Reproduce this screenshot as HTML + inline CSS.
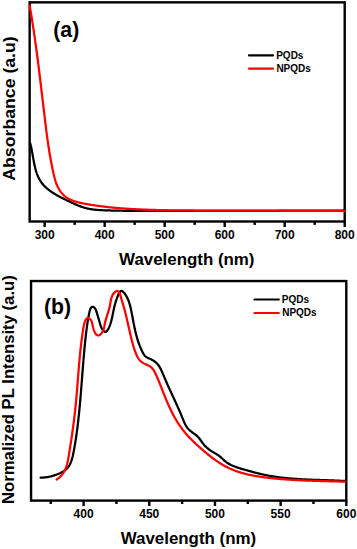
<!DOCTYPE html>
<html><head><meta charset="utf-8"><style>
html,body{margin:0;padding:0;background:#fff;width:357px;height:549px;overflow:hidden}
svg{display:block}
text{font-family:"Liberation Sans",sans-serif;font-weight:bold;fill:#000}
</style></head><body>
<svg width="357" height="549" viewBox="0 0 357 549">
<rect x="0" y="0" width="357" height="549" fill="#fff"/>

<g fill="none" stroke="#000" stroke-width="2.4">
<rect x="29.65" y="2.35" width="315.05" height="219.15"/>
<rect x="31.05" y="281.05" width="315.25" height="219.55"/>
</g>
<g fill="none" stroke-linejoin="round" stroke-linecap="round">
<path d="M30.11,143.01 L30.28,143.60 L30.45,144.21 L30.61,144.81 L30.76,145.42 L30.91,146.04 L31.06,146.67 L31.20,147.29 L31.34,147.93 L31.47,148.56 L31.60,149.20 L31.73,149.85 L31.85,150.50 L31.98,151.15 L32.10,151.80 L32.22,152.46 L32.34,153.12 L32.45,153.79 L32.57,154.45 L32.68,155.12 L32.80,155.79 L32.91,156.46 L33.03,157.13 L33.14,157.80 L33.26,158.48 L33.38,159.15 L33.50,159.83 L33.62,160.50 L33.74,161.17 L33.87,161.85 L34.00,162.52 L34.13,163.19 L34.26,163.86 L34.40,164.53 L34.54,165.20 L34.69,165.87 L34.84,166.53 L35.00,167.19 L35.16,167.85 L35.32,168.51 L35.49,169.16 L35.67,169.81 L35.85,170.45 L36.04,171.10 L36.24,171.73 L36.44,172.37 L36.66,173.00 L36.87,173.62 L37.10,174.24 L37.34,174.85 L37.58,175.46 L37.83,176.06 L38.10,176.66 L38.37,177.25 L38.65,177.83 L38.94,178.41 L39.24,178.98 L39.55,179.54 L39.87,180.10 L40.21,180.64 L40.55,181.18 L40.91,181.71 L41.28,182.24 L41.66,182.75 L42.05,183.26 L42.45,183.76 L42.86,184.25 L43.28,184.74 L43.71,185.21 L44.15,185.69 L44.60,186.15 L45.05,186.61 L45.52,187.06 L45.99,187.50 L46.48,187.94 L46.96,188.37 L47.46,188.79 L47.97,189.21 L48.48,189.62 L48.99,190.03 L49.52,190.43 L50.05,190.82 L50.58,191.21 L51.13,191.59 L51.67,191.97 L52.22,192.34 L52.78,192.71 L53.34,193.07 L53.91,193.43 L54.48,193.78 L55.06,194.13 L55.63,194.48 L56.22,194.82 L56.80,195.16 L57.39,195.49 L57.98,195.82 L58.58,196.14 L59.18,196.47 L59.78,196.79 L60.38,197.10 L60.98,197.42 L61.59,197.73 L62.20,198.04 L62.81,198.34 L63.42,198.65 L64.03,198.95 L64.64,199.25 L65.25,199.55 L65.86,199.84 L66.48,200.14 L67.09,200.43 L67.70,200.73 L68.31,201.02 L68.92,201.31 L69.53,201.60 L70.14,201.89 L70.75,202.18 L71.36,202.47 L71.97,202.75 L72.58,203.03 L73.19,203.31 L73.79,203.59 L74.40,203.87 L75.01,204.14 L75.62,204.40 L76.23,204.67 L76.84,204.93 L77.45,205.18 L78.06,205.43 L78.67,205.68 L79.28,205.92 L79.90,206.16 L80.51,206.39 L81.13,206.61 L81.74,206.83 L82.36,207.04 L82.98,207.25 L83.61,207.45 L84.23,207.64 L84.86,207.82 L85.49,208.00 L86.12,208.17 L86.75,208.33 L87.38,208.48 L88.02,208.62 L88.66,208.76 L89.30,208.88 L89.95,209.00 L90.59,209.12 L91.24,209.22 L91.89,209.32 L92.54,209.41 L93.19,209.50 L93.85,209.58 L94.50,209.66 L95.16,209.73 L95.82,209.79 L96.48,209.85 L97.14,209.91 L97.80,209.96 L98.47,210.00 L99.13,210.05 L99.80,210.09 L100.46,210.13 L101.13,210.16 L101.79,210.19 L102.46,210.22 L103.13,210.25 L103.80,210.28 L104.46,210.30 L105.13,210.33 L105.80,210.35 L106.47,210.37 L107.14,210.39 L107.80,210.41 L108.47,210.43 L109.14,210.45 L109.81,210.47 L110.47,210.49 L111.14,210.51 L111.81,210.53 L112.48,210.55 L113.15,210.56 L113.81,210.58 L114.48,210.59 L115.15,210.61 L115.81,210.62 L116.48,210.64 L117.15,210.65 L117.82,210.67 L118.48,210.68 L119.15,210.69 L119.82,210.70 L120.49,210.71 L121.15,210.72 L121.82,210.74 L122.49,210.75 L123.15,210.76 L123.82,210.76 L124.49,210.77 L125.15,210.78 L125.82,210.79 L126.49,210.80 L127.15,210.81 L127.82,210.81 L128.49,210.82 L129.15,210.83 L129.82,210.83 L130.49,210.84 L131.15,210.85 L131.82,210.85 L132.49,210.86 L133.15,210.86 L133.82,210.87 L134.49,210.87 L135.15,210.88 L135.82,210.88 L136.49,210.88 L137.15,210.89 L137.82,210.89 L138.49,210.89 L139.15,210.90 L139.82,210.90 L140.49,210.90 L141.15,210.90 L141.82,210.91 L142.48,210.91 L143.15,210.91 L143.82,210.91 L144.48,210.91 L145.15,210.92 L145.82,210.92 L146.48,210.92 L147.15,210.92 L147.82,210.92 L148.48,210.92 L149.15,210.92 L149.81,210.93 L150.48,210.93 L151.15,210.93 L151.81,210.93 L152.48,210.93 L153.15,210.93 L153.81,210.93 L154.48,210.93 L155.14,210.93 L155.81,210.94 L156.48,210.94 L157.14,210.94 L157.81,210.94 L158.48,210.94 L159.14,210.94 L159.81,210.94 L160.47,210.94 L161.14,210.94 L161.81,210.94 L162.47,210.94 L163.14,210.94 L163.81,210.94 L164.47,210.95 L165.14,210.95 L165.80,210.95 L166.47,210.95 L167.14,210.95 L167.80,210.95 L168.47,210.95 L169.14,210.95 L169.80,210.95 L170.47,210.95 L171.13,210.95 L171.80,210.95 L172.47,210.95 L173.13,210.95 L173.80,210.95 L174.46,210.95 L175.13,210.95 L175.80,210.95 L176.46,210.95 L177.13,210.95 L177.80,210.95 L178.46,210.95 L179.13,210.95 L179.79,210.95 L180.46,210.95 L181.13,210.95 L181.79,210.95 L182.46,210.95 L183.13,210.95 L183.79,210.95 L184.46,210.95 L185.12,210.95 L185.79,210.95 L186.46,210.95 L187.12,210.95 L187.79,210.95 L188.45,210.95 L189.12,210.95 L189.79,210.95 L190.45,210.95 L191.12,210.95 L191.79,210.95 L192.45,210.95 L193.12,210.95 L193.78,210.95 L194.45,210.95 L195.12,210.95 L195.78,210.94 L196.45,210.94 L197.11,210.94 L197.78,210.94 L198.45,210.94 L199.11,210.94 L199.78,210.94 L200.45,210.94 L201.11,210.94 L201.78,210.94 L202.44,210.94 L203.11,210.94 L203.78,210.94 L204.44,210.94 L205.11,210.93 L205.77,210.93 L206.44,210.93 L207.11,210.93 L207.77,210.93 L208.44,210.93 L209.10,210.93 L209.77,210.93 L210.44,210.93 L211.10,210.93 L211.77,210.93 L212.44,210.92 L213.10,210.92 L213.77,210.92 L214.43,210.92 L215.10,210.92 L215.77,210.92 L216.43,210.92 L217.10,210.92 L217.76,210.92 L218.43,210.91 L219.10,210.91 L219.76,210.91 L220.43,210.91 L221.10,210.91 L221.76,210.91 L222.43,210.91 L223.09,210.91 L223.76,210.90 L224.43,210.90 L225.09,210.90 L225.76,210.90 L226.42,210.90 L227.09,210.90 L227.76,210.90 L228.42,210.89 L229.09,210.89 L229.75,210.89 L230.42,210.89 L231.09,210.89 L231.75,210.89 L232.42,210.88 L233.09,210.88 L233.75,210.88 L234.42,210.88 L235.08,210.88 L235.75,210.88 L236.42,210.88 L237.08,210.87 L237.75,210.87 L238.41,210.87 L239.08,210.87 L239.75,210.87 L240.41,210.86 L241.08,210.86 L241.74,210.86 L242.41,210.86 L243.08,210.86 L243.74,210.86 L244.41,210.85 L245.08,210.85 L245.74,210.85 L246.41,210.85 L247.07,210.85 L247.74,210.84 L248.41,210.84 L249.07,210.84 L249.74,210.84 L250.40,210.84 L251.07,210.84 L251.74,210.83 L252.40,210.83 L253.07,210.83 L253.73,210.83 L254.40,210.83 L255.07,210.82 L255.73,210.82 L256.40,210.82 L257.07,210.82 L257.73,210.82 L258.40,210.81 L259.06,210.81 L259.73,210.81 L260.40,210.81 L261.06,210.80 L261.73,210.80 L262.39,210.80 L263.06,210.80 L263.73,210.80 L264.39,210.79 L265.06,210.79 L265.72,210.79 L266.39,210.79 L267.06,210.78 L267.72,210.78 L268.39,210.78 L269.06,210.78 L269.72,210.78 L270.39,210.77 L271.05,210.77 L271.72,210.77 L272.39,210.77 L273.05,210.76 L273.72,210.76 L274.38,210.76 L275.05,210.76 L275.72,210.76 L276.38,210.75 L277.05,210.75 L277.72,210.75 L278.38,210.75 L279.05,210.74 L279.71,210.74 L280.38,210.74 L281.05,210.74 L281.71,210.73 L282.38,210.73 L283.04,210.73 L283.71,210.73 L284.38,210.72 L285.04,210.72 L285.71,210.72 L286.38,210.72 L287.04,210.71 L287.71,210.71 L288.37,210.71 L289.04,210.71 L289.71,210.70 L290.37,210.70 L291.04,210.70 L291.70,210.70 L292.37,210.69 L293.04,210.69 L293.70,210.69 L294.37,210.69 L295.04,210.68 L295.70,210.68 L296.37,210.68 L297.03,210.68 L297.70,210.67 L298.37,210.67 L299.03,210.67 L299.70,210.67 L300.36,210.66 L301.03,210.66 L301.70,210.66 L302.36,210.66 L303.03,210.65 L303.70,210.65 L304.36,210.65 L305.03,210.65 L305.69,210.64 L306.36,210.64 L307.03,210.64 L307.69,210.63 L308.36,210.63 L309.03,210.63 L309.69,210.63 L310.36,210.62 L311.02,210.62 L311.69,210.62 L312.36,210.62 L313.02,210.61 L313.69,210.61 L314.36,210.61 L315.02,210.61 L315.69,210.60 L316.35,210.60 L317.02,210.60 L317.69,210.59 L318.35,210.59 L319.02,210.59 L319.68,210.59 L320.35,210.58 L321.02,210.58 L321.68,210.58 L322.35,210.58 L323.02,210.57 L323.68,210.57 L324.35,210.57 L325.01,210.57 L325.68,210.56 L326.35,210.56 L327.01,210.56 L327.68,210.55 L328.35,210.55 L329.01,210.55 L329.68,210.55 L330.34,210.54 L331.01,210.54 L331.68,210.54 L332.34,210.54 L333.01,210.53 L333.68,210.53 L334.34,210.53 L335.01,210.53 L335.68,210.52 L336.34,210.52 L337.01,210.52 L337.67,210.51 L338.34,210.51 L339.01,210.51 L339.67,210.51 L340.34,210.50 L341.01,210.50 L341.67,210.50 L342.34,210.50 L343.00,210.49 L343.67,210.49 L344.34,210.49 L345.00,210.49" stroke="#000" stroke-width="2.25"/>
<path d="M29.68,5.57 L29.79,6.23 L29.91,6.88 L30.02,7.53 L30.13,8.18 L30.24,8.83 L30.35,9.49 L30.46,10.14 L30.57,10.79 L30.68,11.45 L30.79,12.10 L30.90,12.75 L31.01,13.41 L31.12,14.06 L31.22,14.72 L31.33,15.37 L31.44,16.03 L31.54,16.68 L31.65,17.34 L31.75,17.99 L31.86,18.65 L31.96,19.30 L32.06,19.96 L32.17,20.61 L32.27,21.27 L32.37,21.92 L32.48,22.58 L32.58,23.24 L32.68,23.89 L32.78,24.55 L32.88,25.21 L32.98,25.86 L33.08,26.52 L33.18,27.18 L33.28,27.84 L33.38,28.49 L33.48,29.15 L33.58,29.81 L33.68,30.47 L33.77,31.12 L33.87,31.78 L33.97,32.44 L34.06,33.10 L34.16,33.76 L34.26,34.42 L34.35,35.08 L34.45,35.73 L34.54,36.39 L34.64,37.05 L34.73,37.71 L34.82,38.37 L34.92,39.03 L35.01,39.69 L35.10,40.35 L35.20,41.01 L35.29,41.67 L35.38,42.33 L35.47,42.99 L35.57,43.65 L35.66,44.31 L35.75,44.97 L35.84,45.63 L35.93,46.29 L36.02,46.95 L36.11,47.61 L36.20,48.27 L36.29,48.93 L36.38,49.59 L36.47,50.26 L36.55,50.92 L36.64,51.58 L36.73,52.24 L36.82,52.90 L36.91,53.56 L36.99,54.22 L37.08,54.88 L37.17,55.54 L37.25,56.21 L37.34,56.87 L37.43,57.53 L37.51,58.19 L37.60,58.85 L37.68,59.51 L37.77,60.18 L37.86,60.84 L37.94,61.50 L38.02,62.16 L38.11,62.82 L38.19,63.49 L38.28,64.15 L38.36,64.81 L38.45,65.47 L38.53,66.13 L38.61,66.80 L38.70,67.46 L38.78,68.12 L38.86,68.78 L38.94,69.44 L39.03,70.11 L39.11,70.77 L39.19,71.43 L39.27,72.09 L39.36,72.76 L39.44,73.42 L39.52,74.08 L39.60,74.74 L39.68,75.40 L39.76,76.07 L39.84,76.73 L39.92,77.39 L40.01,78.05 L40.09,78.71 L40.17,79.38 L40.25,80.04 L40.33,80.70 L40.41,81.36 L40.49,82.03 L40.57,82.69 L40.65,83.35 L40.73,84.01 L40.81,84.67 L40.89,85.34 L40.97,86.00 L41.04,86.66 L41.12,87.32 L41.20,87.98 L41.28,88.64 L41.36,89.31 L41.44,89.97 L41.52,90.63 L41.60,91.29 L41.68,91.95 L41.76,92.61 L41.83,93.28 L41.91,93.94 L41.99,94.60 L42.07,95.26 L42.15,95.92 L42.23,96.58 L42.30,97.24 L42.38,97.90 L42.46,98.56 L42.54,99.22 L42.62,99.89 L42.70,100.55 L42.77,101.21 L42.85,101.87 L42.93,102.53 L43.01,103.19 L43.09,103.85 L43.16,104.51 L43.24,105.17 L43.32,105.83 L43.40,106.49 L43.48,107.15 L43.56,107.81 L43.63,108.47 L43.71,109.13 L43.79,109.79 L43.87,110.45 L43.95,111.10 L44.02,111.76 L44.10,112.42 L44.18,113.08 L44.26,113.74 L44.34,114.40 L44.42,115.06 L44.49,115.72 L44.57,116.37 L44.65,117.03 L44.73,117.69 L44.81,118.35 L44.89,119.01 L44.97,119.66 L45.05,120.32 L45.12,120.98 L45.20,121.64 L45.28,122.29 L45.36,122.95 L45.44,123.61 L45.52,124.26 L45.60,124.92 L45.69,125.58 L45.77,126.24 L45.85,126.89 L45.93,127.55 L46.01,128.21 L46.10,128.86 L46.18,129.52 L46.26,130.18 L46.35,130.83 L46.43,131.49 L46.51,132.15 L46.60,132.80 L46.69,133.46 L46.77,134.12 L46.86,134.78 L46.95,135.43 L47.03,136.09 L47.12,136.75 L47.21,137.40 L47.30,138.06 L47.39,138.72 L47.48,139.38 L47.57,140.03 L47.67,140.69 L47.76,141.35 L47.85,142.01 L47.95,142.66 L48.04,143.32 L48.14,143.98 L48.24,144.64 L48.33,145.29 L48.43,145.95 L48.53,146.61 L48.63,147.27 L48.73,147.93 L48.83,148.59 L48.94,149.25 L49.04,149.90 L49.15,150.56 L49.25,151.22 L49.36,151.88 L49.47,152.54 L49.57,153.20 L49.68,153.86 L49.79,154.52 L49.91,155.18 L50.02,155.84 L50.13,156.50 L50.25,157.16 L50.36,157.83 L50.48,158.49 L50.60,159.15 L50.72,159.81 L50.84,160.47 L50.96,161.13 L51.09,161.80 L51.21,162.46 L51.34,163.12 L51.46,163.79 L51.59,164.45 L51.72,165.11 L51.85,165.78 L51.99,166.44 L52.12,167.11 L52.26,167.77 L52.39,168.44 L52.53,169.10 L52.67,169.77 L52.81,170.44 L52.95,171.10 L53.10,171.77 L53.24,172.44 L53.39,173.10 L53.54,173.77 L53.69,174.44 L53.85,175.10 L54.01,175.76 L54.17,176.43 L54.34,177.09 L54.52,177.74 L54.69,178.40 L54.88,179.05 L55.07,179.70 L55.26,180.35 L55.47,181.00 L55.68,181.64 L55.89,182.27 L56.12,182.90 L56.35,183.53 L56.59,184.15 L56.84,184.77 L57.10,185.38 L57.37,185.99 L57.65,186.59 L57.93,187.18 L58.23,187.76 L58.54,188.34 L58.85,188.91 L59.18,189.47 L59.52,190.02 L59.86,190.57 L60.22,191.10 L60.58,191.62 L60.96,192.14 L61.35,192.64 L61.74,193.13 L62.15,193.61 L62.57,194.08 L63.00,194.53 L63.44,194.98 L63.89,195.40 L64.36,195.82 L64.83,196.22 L65.32,196.61 L65.81,196.98 L66.32,197.34 L66.84,197.69 L67.36,198.03 L67.90,198.35 L68.44,198.66 L69.00,198.96 L69.56,199.25 L70.13,199.53 L70.71,199.80 L71.30,200.05 L71.89,200.30 L72.49,200.54 L73.10,200.77 L73.71,200.99 L74.33,201.20 L74.95,201.41 L75.58,201.60 L76.22,201.79 L76.86,201.97 L77.50,202.15 L78.15,202.32 L78.80,202.48 L79.46,202.64 L80.12,202.79 L80.78,202.94 L81.44,203.08 L82.11,203.22 L82.78,203.36 L83.45,203.49 L84.12,203.62 L84.79,203.74 L85.46,203.86 L86.13,203.98 L86.81,204.10 L87.48,204.22 L88.15,204.33 L88.82,204.45 L89.49,204.56 L90.16,204.67 L90.83,204.78 L91.50,204.89 L92.17,204.99 L92.84,205.10 L93.51,205.20 L94.18,205.30 L94.85,205.40 L95.52,205.50 L96.19,205.60 L96.86,205.69 L97.52,205.79 L98.19,205.88 L98.86,205.97 L99.53,206.06 L100.19,206.15 L100.86,206.24 L101.53,206.32 L102.19,206.41 L102.86,206.49 L103.53,206.57 L104.19,206.66 L104.86,206.73 L105.52,206.81 L106.19,206.89 L106.85,206.97 L107.52,207.04 L108.18,207.11 L108.85,207.18 L109.51,207.26 L110.18,207.33 L110.84,207.39 L111.50,207.46 L112.17,207.53 L112.83,207.59 L113.49,207.66 L114.16,207.72 L114.82,207.78 L115.48,207.84 L116.15,207.90 L116.81,207.96 L117.47,208.02 L118.13,208.07 L118.80,208.13 L119.46,208.18 L120.12,208.24 L120.78,208.29 L121.45,208.34 L122.11,208.39 L122.77,208.44 L123.43,208.49 L124.09,208.54 L124.76,208.58 L125.42,208.63 L126.08,208.67 L126.74,208.72 L127.40,208.76 L128.06,208.80 L128.73,208.84 L129.39,208.89 L130.05,208.92 L130.71,208.96 L131.37,209.00 L132.03,209.04 L132.70,209.08 L133.36,209.11 L134.02,209.15 L134.68,209.18 L135.34,209.22 L136.00,209.25 L136.66,209.28 L137.33,209.31 L137.99,209.34 L138.65,209.38 L139.31,209.40 L139.97,209.43 L140.63,209.46 L141.30,209.49 L141.96,209.52 L142.62,209.54 L143.28,209.57 L143.94,209.60 L144.60,209.62 L145.27,209.65 L145.93,209.67 L146.59,209.69 L147.25,209.72 L147.92,209.74 L148.58,209.76 L149.24,209.78 L149.90,209.81 L150.57,209.83 L151.23,209.85 L151.89,209.87 L152.56,209.89 L153.22,209.91 L153.88,209.92 L154.55,209.94 L155.21,209.96 L155.87,209.98 L156.54,210.00 L157.20,210.01 L157.87,210.03 L158.53,210.05 L159.20,210.06 L159.86,210.08 L160.52,210.09 L161.19,210.11 L161.85,210.12 L162.52,210.13 L163.18,210.15 L163.85,210.16 L164.51,210.18 L165.18,210.19 L165.84,210.20 L166.51,210.21 L167.17,210.22 L167.84,210.24 L168.50,210.25 L169.17,210.26 L169.84,210.27 L170.50,210.28 L171.17,210.29 L171.83,210.30 L172.50,210.31 L173.16,210.32 L173.83,210.33 L174.50,210.34 L175.16,210.34 L175.83,210.35 L176.50,210.36 L177.16,210.37 L177.83,210.38 L178.49,210.38 L179.16,210.39 L179.83,210.40 L180.49,210.40 L181.16,210.41 L181.83,210.42 L182.49,210.42 L183.16,210.43 L183.83,210.43 L184.49,210.44 L185.16,210.44 L185.83,210.45 L186.49,210.45 L187.16,210.46 L187.83,210.46 L188.50,210.47 L189.16,210.47 L189.83,210.48 L190.50,210.48 L191.16,210.48 L191.83,210.49 L192.50,210.49 L193.16,210.49 L193.83,210.50 L194.50,210.50 L195.17,210.50 L195.83,210.51 L196.50,210.51 L197.17,210.51 L197.83,210.51 L198.50,210.52 L199.17,210.52 L199.84,210.52 L200.50,210.52 L201.17,210.53 L201.84,210.53 L202.50,210.53 L203.17,210.53 L203.84,210.53 L204.51,210.54 L205.17,210.54 L205.84,210.54 L206.51,210.54 L207.17,210.54 L207.84,210.54 L208.51,210.55 L209.18,210.55 L209.84,210.55 L210.51,210.55 L211.18,210.55 L211.84,210.55 L212.51,210.55 L213.18,210.56 L213.84,210.56 L214.51,210.56 L215.18,210.56 L215.84,210.56 L216.51,210.56 L217.18,210.56 L217.84,210.57 L218.51,210.57 L219.18,210.57 L219.84,210.57 L220.51,210.57 L221.18,210.57 L221.84,210.58 L222.51,210.58 L223.18,210.58 L223.84,210.58 L224.51,210.58 L225.17,210.58 L225.84,210.59 L226.51,210.59 L227.17,210.59 L227.84,210.59 L228.51,210.59 L229.17,210.59 L229.84,210.59 L230.50,210.60 L231.17,210.60 L231.84,210.60 L232.50,210.60 L233.17,210.60 L233.83,210.61 L234.50,210.61 L235.16,210.61 L235.83,210.61 L236.50,210.61 L237.16,210.61 L237.83,210.62 L238.49,210.62 L239.16,210.62 L239.83,210.62 L240.49,210.62 L241.16,210.62 L241.82,210.63 L242.49,210.63 L243.15,210.63 L243.82,210.63 L244.48,210.63 L245.15,210.64 L245.82,210.64 L246.48,210.64 L247.15,210.64 L247.81,210.64 L248.48,210.64 L249.14,210.65 L249.81,210.65 L250.47,210.65 L251.14,210.65 L251.80,210.65 L252.47,210.66 L253.14,210.66 L253.80,210.66 L254.47,210.66 L255.13,210.66 L255.80,210.66 L256.46,210.67 L257.13,210.67 L257.79,210.67 L258.46,210.67 L259.12,210.67 L259.79,210.68 L260.45,210.68 L261.12,210.68 L261.78,210.68 L262.45,210.68 L263.12,210.69 L263.78,210.69 L264.45,210.69 L265.11,210.69 L265.78,210.69 L266.44,210.69 L267.11,210.70 L267.77,210.70 L268.44,210.70 L269.10,210.70 L269.77,210.70 L270.43,210.71 L271.10,210.71 L271.76,210.71 L272.43,210.71 L273.09,210.71 L273.76,210.72 L274.42,210.72 L275.09,210.72 L275.75,210.72 L276.42,210.72 L277.09,210.73 L277.75,210.73 L278.42,210.73 L279.08,210.73 L279.75,210.73 L280.41,210.73 L281.08,210.74 L281.74,210.74 L282.41,210.74 L283.07,210.74 L283.74,210.74 L284.40,210.75 L285.07,210.75 L285.73,210.75 L286.40,210.75 L287.06,210.75 L287.73,210.76 L288.39,210.76 L289.06,210.76 L289.73,210.76 L290.39,210.76 L291.06,210.76 L291.72,210.77 L292.39,210.77 L293.05,210.77 L293.72,210.77 L294.38,210.77 L295.05,210.78 L295.71,210.78 L296.38,210.78 L297.05,210.78 L297.71,210.78 L298.38,210.78 L299.04,210.79 L299.71,210.79 L300.37,210.79 L301.04,210.79 L301.70,210.79 L302.37,210.80 L303.04,210.80 L303.70,210.80 L304.37,210.80 L305.03,210.80 L305.70,210.80 L306.36,210.81 L307.03,210.81 L307.70,210.81 L308.36,210.81 L309.03,210.81 L309.69,210.81 L310.36,210.82 L311.03,210.82 L311.69,210.82 L312.36,210.82 L313.02,210.82 L313.69,210.82 L314.35,210.83 L315.02,210.83 L315.69,210.83 L316.35,210.83 L317.02,210.83 L317.69,210.83 L318.35,210.84 L319.02,210.84 L319.68,210.84 L320.35,210.84 L321.02,210.84 L321.68,210.84 L322.35,210.85 L323.02,210.85 L323.68,210.85 L324.35,210.85 L325.02,210.85 L325.68,210.85 L326.35,210.85 L327.01,210.86 L327.68,210.86 L328.35,210.86 L329.01,210.86 L329.68,210.86 L330.35,210.86 L331.01,210.86 L331.68,210.87 L332.35,210.87 L333.02,210.87 L333.68,210.87 L334.35,210.87 L335.02,210.87 L335.68,210.87 L336.35,210.88 L337.02,210.88 L337.68,210.88 L338.35,210.88 L339.02,210.88 L339.69,210.88 L340.35,210.88 L341.02,210.88 L341.69,210.89 L342.36,210.89 L343.02,210.89 L343.69,210.89 L344.36,210.89 L345.03,210.89" stroke="#f00" stroke-width="2.25"/>
<path d="M40.54,477.54 L41.28,477.56 L41.99,477.57 L42.70,477.56 L43.39,477.53 L44.07,477.49 L44.74,477.45 L45.40,477.38 L46.06,477.31 L46.70,477.22 L47.34,477.12 L47.97,477.02 L48.60,476.90 L49.23,476.77 L49.85,476.63 L50.47,476.47 L51.09,476.32 L51.70,476.15 L52.32,475.97 L52.95,475.78 L53.57,475.59 L54.20,475.38 L54.83,475.17 L55.47,474.96 L56.11,474.73 L56.75,474.50 L57.40,474.26 L58.05,474.00 L58.69,473.74 L59.33,473.47 L59.96,473.19 L60.59,472.90 L61.21,472.59 L61.83,472.28 L62.43,471.95 L63.02,471.61 L63.59,471.25 L64.15,470.88 L64.70,470.50 L65.23,470.10 L65.73,469.69 L66.22,469.26 L66.69,468.82 L67.13,468.35 L67.55,467.88 L67.96,467.39 L68.34,466.89 L68.71,466.37 L69.05,465.84 L69.38,465.30 L69.70,464.74 L70.00,464.18 L70.28,463.60 L70.55,463.02 L70.80,462.42 L71.05,461.82 L71.28,461.21 L71.49,460.59 L71.70,459.96 L71.90,459.33 L72.09,458.69 L72.26,458.05 L72.43,457.40 L72.60,456.75 L72.75,456.09 L72.90,455.43 L73.05,454.77 L73.19,454.10 L73.32,453.44 L73.45,452.77 L73.58,452.10 L73.71,451.44 L73.84,450.77 L73.96,450.10 L74.08,449.44 L74.20,448.77 L74.32,448.11 L74.44,447.44 L74.56,446.78 L74.67,446.12 L74.79,445.46 L74.90,444.79 L75.01,444.13 L75.12,443.47 L75.23,442.81 L75.33,442.15 L75.44,441.49 L75.54,440.83 L75.65,440.17 L75.75,439.51 L75.85,438.85 L75.95,438.19 L76.05,437.53 L76.15,436.87 L76.24,436.21 L76.34,435.55 L76.43,434.89 L76.52,434.24 L76.62,433.58 L76.71,432.92 L76.80,432.26 L76.89,431.60 L76.97,430.94 L77.06,430.28 L77.15,429.62 L77.23,428.96 L77.32,428.31 L77.40,427.65 L77.48,426.99 L77.57,426.33 L77.65,425.67 L77.73,425.01 L77.81,424.35 L77.89,423.69 L77.96,423.03 L78.04,422.37 L78.12,421.71 L78.19,421.05 L78.27,420.39 L78.34,419.72 L78.42,419.06 L78.49,418.40 L78.56,417.74 L78.63,417.08 L78.70,416.42 L78.77,415.76 L78.84,415.10 L78.91,414.43 L78.98,413.77 L79.05,413.11 L79.12,412.45 L79.18,411.79 L79.25,411.13 L79.31,410.46 L79.38,409.80 L79.44,409.14 L79.51,408.48 L79.57,407.81 L79.63,407.15 L79.69,406.49 L79.76,405.83 L79.82,405.16 L79.88,404.50 L79.94,403.84 L80.00,403.18 L80.06,402.51 L80.12,401.85 L80.18,401.19 L80.23,400.52 L80.29,399.86 L80.35,399.20 L80.41,398.53 L80.46,397.87 L80.52,397.21 L80.58,396.54 L80.63,395.88 L80.69,395.21 L80.74,394.55 L80.80,393.89 L80.85,393.22 L80.91,392.56 L80.96,391.89 L81.01,391.23 L81.07,390.57 L81.12,389.90 L81.17,389.24 L81.23,388.57 L81.28,387.91 L81.33,387.25 L81.39,386.58 L81.44,385.92 L81.49,385.25 L81.54,384.59 L81.59,383.92 L81.65,383.26 L81.70,382.59 L81.75,381.93 L81.80,381.26 L81.85,380.60 L81.90,379.93 L81.95,379.27 L82.01,378.60 L82.06,377.94 L82.11,377.27 L82.16,376.61 L82.21,375.94 L82.26,375.28 L82.31,374.61 L82.37,373.95 L82.42,373.28 L82.47,372.62 L82.52,371.95 L82.57,371.29 L82.63,370.62 L82.68,369.96 L82.73,369.29 L82.78,368.63 L82.83,367.96 L82.89,367.30 L82.94,366.63 L82.99,365.97 L83.05,365.30 L83.10,364.64 L83.15,363.97 L83.21,363.31 L83.26,362.64 L83.31,361.98 L83.37,361.31 L83.42,360.65 L83.48,359.98 L83.53,359.31 L83.59,358.65 L83.65,357.98 L83.70,357.32 L83.76,356.65 L83.82,355.99 L83.87,355.32 L83.93,354.66 L83.99,353.99 L84.05,353.33 L84.11,352.66 L84.17,352.00 L84.23,351.33 L84.29,350.67 L84.35,350.00 L84.41,349.34 L84.47,348.67 L84.53,348.01 L84.60,347.34 L84.66,346.68 L84.72,346.01 L84.79,345.35 L84.85,344.68 L84.92,344.02 L84.98,343.35 L85.05,342.69 L85.12,342.02 L85.19,341.36 L85.25,340.69 L85.32,340.03 L85.39,339.37 L85.46,338.70 L85.53,338.04 L85.61,337.38 L85.68,336.72 L85.75,336.05 L85.83,335.39 L85.91,334.73 L85.98,334.07 L86.06,333.42 L86.14,332.76 L86.22,332.10 L86.30,331.44 L86.38,330.79 L86.47,330.14 L86.55,329.48 L86.64,328.83 L86.73,328.18 L86.81,327.53 L86.90,326.88 L86.99,326.23 L87.09,325.59 L87.18,324.94 L87.28,324.30 L87.37,323.66 L87.47,323.02 L87.57,322.38 L87.68,321.74 L87.78,321.09 L87.89,320.44 L88.00,319.79 L88.11,319.13 L88.23,318.47 L88.35,317.80 L88.47,317.11 L88.59,316.42 L88.72,315.72 L88.86,315.00 L89.00,314.27 L89.14,313.52 L89.29,312.77 L89.45,312.01 L89.62,311.26 L89.80,310.54 L90.01,309.85 L90.23,309.20 L90.48,308.61 L90.75,308.09 L91.05,307.64 L91.38,307.28 L91.75,307.01 L92.16,306.86 L92.61,306.82 L93.09,306.91 L93.58,307.11 L94.07,307.42 L94.54,307.83 L94.97,308.32 L95.34,308.89 L95.66,309.51 L95.95,310.18 L96.20,310.88 L96.44,311.59 L96.66,312.30 L96.87,312.99 L97.08,313.66 L97.28,314.31 L97.48,314.95 L97.67,315.57 L97.86,316.19 L98.05,316.80 L98.24,317.41 L98.42,318.01 L98.60,318.61 L98.78,319.22 L98.95,319.83 L99.13,320.45 L99.31,321.07 L99.48,321.71 L99.66,322.36 L99.84,323.02 L100.02,323.69 L100.22,324.37 L100.42,325.04 L100.64,325.71 L100.89,326.38 L101.15,327.04 L101.43,327.68 L101.75,328.31 L102.09,328.92 L102.47,329.50 L102.89,330.06 L103.35,330.59 L103.83,331.07 L104.33,331.46 L104.84,331.74 L105.32,331.87 L105.78,331.84 L106.21,331.66 L106.61,331.36 L107.00,330.96 L107.36,330.48 L107.70,329.95 L108.03,329.40 L108.34,328.83 L108.64,328.25 L108.93,327.65 L109.20,327.05 L109.46,326.44 L109.71,325.81 L109.95,325.18 L110.18,324.55 L110.40,323.90 L110.61,323.25 L110.81,322.59 L111.00,321.93 L111.19,321.27 L111.36,320.60 L111.53,319.92 L111.70,319.25 L111.86,318.58 L112.01,317.90 L112.16,317.22 L112.30,316.55 L112.44,315.88 L112.58,315.20 L112.71,314.54 L112.85,313.87 L112.98,313.21 L113.11,312.55 L113.24,311.90 L113.37,311.26 L113.50,310.62 L113.63,309.99 L113.76,309.37 L113.90,308.74 L114.03,308.12 L114.17,307.51 L114.32,306.89 L114.47,306.28 L114.62,305.67 L114.78,305.05 L114.94,304.44 L115.11,303.82 L115.28,303.20 L115.47,302.57 L115.66,301.94 L115.86,301.31 L116.07,300.66 L116.28,300.01 L116.51,299.36 L116.75,298.69 L116.99,298.01 L117.25,297.33 L117.52,296.63 L117.80,295.92 L118.10,295.20 L118.41,294.48 L118.73,293.78 L119.06,293.12 L119.41,292.52 L119.77,291.99 L120.15,291.55 L120.54,291.21 L120.95,291.00 L121.37,290.93 L121.80,290.99 L122.24,291.16 L122.68,291.44 L123.13,291.80 L123.57,292.24 L124.01,292.73 L124.44,293.26 L124.85,293.81 L125.25,294.38 L125.63,294.96 L126.00,295.53 L126.34,296.12 L126.68,296.71 L127.00,297.31 L127.30,297.91 L127.59,298.51 L127.86,299.12 L128.13,299.74 L128.38,300.36 L128.62,300.98 L128.85,301.61 L129.07,302.24 L129.27,302.87 L129.47,303.51 L129.66,304.15 L129.85,304.79 L130.02,305.43 L130.19,306.08 L130.35,306.73 L130.51,307.38 L130.66,308.03 L130.81,308.69 L130.95,309.34 L131.09,310.00 L131.22,310.65 L131.36,311.31 L131.49,311.97 L131.62,312.62 L131.75,313.28 L131.88,313.94 L132.01,314.60 L132.13,315.25 L132.26,315.91 L132.38,316.57 L132.51,317.23 L132.63,317.88 L132.76,318.54 L132.88,319.20 L133.01,319.85 L133.13,320.51 L133.26,321.17 L133.38,321.82 L133.51,322.48 L133.63,323.13 L133.76,323.79 L133.89,324.44 L134.02,325.10 L134.15,325.75 L134.29,326.40 L134.42,327.05 L134.56,327.71 L134.69,328.36 L134.84,329.01 L134.98,329.66 L135.12,330.31 L135.27,330.95 L135.42,331.60 L135.57,332.25 L135.73,332.89 L135.88,333.54 L136.04,334.18 L136.21,334.82 L136.38,335.46 L136.55,336.11 L136.72,336.74 L136.90,337.38 L137.08,338.02 L137.27,338.66 L137.46,339.29 L137.65,339.92 L137.85,340.56 L138.05,341.19 L138.26,341.82 L138.47,342.44 L138.69,343.07 L138.91,343.70 L139.14,344.32 L139.38,344.94 L139.61,345.56 L139.86,346.18 L140.11,346.80 L140.37,347.41 L140.63,348.03 L140.90,348.64 L141.17,349.25 L141.45,349.86 L141.74,350.47 L142.03,351.07 L142.33,351.67 L142.64,352.27 L142.96,352.87 L143.28,353.47 L143.62,354.05 L143.97,354.62 L144.36,355.16 L144.77,355.67 L145.22,356.14 L145.71,356.57 L146.24,356.95 L146.80,357.30 L147.39,357.62 L148.00,357.91 L148.62,358.20 L149.24,358.48 L149.87,358.76 L150.48,359.04 L151.09,359.34 L151.69,359.64 L152.28,359.96 L152.86,360.29 L153.42,360.64 L153.97,360.99 L154.51,361.37 L155.03,361.75 L155.54,362.16 L156.03,362.57 L156.51,363.01 L156.97,363.46 L157.41,363.93 L157.83,364.42 L158.24,364.93 L158.62,365.45 L159.00,365.99 L159.35,366.55 L159.70,367.11 L160.03,367.69 L160.35,368.28 L160.66,368.87 L160.96,369.48 L161.25,370.09 L161.54,370.71 L161.82,371.33 L162.09,371.95 L162.36,372.58 L162.63,373.20 L162.89,373.83 L163.16,374.45 L163.42,375.07 L163.69,375.69 L163.95,376.31 L164.21,376.93 L164.47,377.54 L164.73,378.16 L165.00,378.77 L165.26,379.39 L165.52,380.00 L165.78,380.61 L166.04,381.22 L166.31,381.83 L166.57,382.44 L166.84,383.04 L167.10,383.65 L167.37,384.26 L167.64,384.86 L167.91,385.47 L168.18,386.08 L168.45,386.68 L168.72,387.29 L168.99,387.89 L169.27,388.50 L169.54,389.10 L169.81,389.70 L170.09,390.31 L170.37,390.91 L170.64,391.51 L170.92,392.12 L171.20,392.72 L171.48,393.32 L171.75,393.92 L172.03,394.53 L172.31,395.13 L172.59,395.73 L172.87,396.34 L173.15,396.94 L173.43,397.54 L173.71,398.15 L173.99,398.75 L174.27,399.35 L174.55,399.96 L174.83,400.56 L175.10,401.17 L175.38,401.77 L175.66,402.38 L175.94,402.98 L176.22,403.59 L176.49,404.19 L176.77,404.80 L177.04,405.41 L177.32,406.01 L177.59,406.62 L177.87,407.23 L178.14,407.84 L178.41,408.45 L178.68,409.06 L178.95,409.67 L179.22,410.28 L179.49,410.90 L179.76,411.51 L180.02,412.13 L180.29,412.74 L180.55,413.36 L180.81,413.97 L181.07,414.59 L181.33,415.21 L181.59,415.83 L181.85,416.45 L182.10,417.07 L182.36,417.69 L182.61,418.32 L182.86,418.94 L183.11,419.57 L183.36,420.19 L183.61,420.81 L183.87,421.43 L184.13,422.05 L184.39,422.66 L184.67,423.27 L184.95,423.86 L185.25,424.46 L185.56,425.04 L185.88,425.61 L186.21,426.17 L186.57,426.72 L186.94,427.25 L187.33,427.77 L187.74,428.28 L188.16,428.77 L188.61,429.25 L189.07,429.71 L189.55,430.17 L190.04,430.61 L190.54,431.04 L191.05,431.46 L191.57,431.87 L192.10,432.27 L192.64,432.67 L193.18,433.05 L193.72,433.44 L194.27,433.82 L194.81,434.21 L195.34,434.60 L195.86,435.00 L196.38,435.41 L196.88,435.84 L197.37,436.28 L197.83,436.73 L198.28,437.21 L198.71,437.70 L199.13,438.21 L199.54,438.73 L199.94,439.26 L200.33,439.79 L200.72,440.33 L201.11,440.88 L201.49,441.43 L201.88,441.98 L202.27,442.52 L202.67,443.06 L203.08,443.60 L203.50,444.12 L203.93,444.64 L204.37,445.14 L204.83,445.64 L205.29,446.12 L205.77,446.60 L206.25,447.07 L206.74,447.53 L207.25,447.97 L207.76,448.41 L208.27,448.84 L208.80,449.26 L209.33,449.66 L209.87,450.06 L210.41,450.45 L210.96,450.83 L211.51,451.20 L212.07,451.55 L212.63,451.90 L213.20,452.24 L213.77,452.57 L214.34,452.90 L214.91,453.22 L215.47,453.55 L216.04,453.88 L216.60,454.21 L217.16,454.55 L217.72,454.90 L218.26,455.27 L218.81,455.65 L219.34,456.04 L219.86,456.46 L220.38,456.90 L220.89,457.35 L221.39,457.81 L221.89,458.28 L222.39,458.75 L222.89,459.23 L223.39,459.70 L223.89,460.16 L224.40,460.62 L224.92,461.06 L225.44,461.48 L225.97,461.89 L226.50,462.28 L227.05,462.66 L227.59,463.03 L228.15,463.38 L228.71,463.72 L229.28,464.05 L229.85,464.37 L230.43,464.67 L231.01,464.97 L231.60,465.25 L232.19,465.53 L232.79,465.79 L233.39,466.05 L234.00,466.30 L234.61,466.54 L235.22,466.77 L235.84,467.00 L236.46,467.22 L237.08,467.43 L237.70,467.64 L238.33,467.84 L238.96,468.04 L239.59,468.24 L240.23,468.43 L240.86,468.62 L241.50,468.81 L242.14,468.99 L242.78,469.17 L243.42,469.35 L244.06,469.54 L244.70,469.72 L245.34,469.90 L245.98,470.08 L246.62,470.26 L247.27,470.44 L247.91,470.62 L248.55,470.80 L249.19,470.98 L249.84,471.16 L250.48,471.34 L251.12,471.52 L251.77,471.69 L252.41,471.87 L253.06,472.04 L253.70,472.22 L254.35,472.39 L254.99,472.56 L255.64,472.73 L256.28,472.90 L256.93,473.06 L257.58,473.23 L258.23,473.39 L258.87,473.55 L259.52,473.71 L260.17,473.86 L260.82,474.01 L261.47,474.16 L262.12,474.31 L262.77,474.46 L263.42,474.60 L264.07,474.74 L264.72,474.88 L265.37,475.01 L266.03,475.14 L266.68,475.27 L267.33,475.40 L267.98,475.52 L268.64,475.64 L269.29,475.76 L269.95,475.88 L270.60,476.00 L271.26,476.11 L271.91,476.22 L272.57,476.32 L273.22,476.43 L273.88,476.53 L274.54,476.63 L275.20,476.73 L275.85,476.83 L276.51,476.92 L277.17,477.02 L277.83,477.11 L278.49,477.19 L279.15,477.28 L279.81,477.36 L280.46,477.45 L281.12,477.53 L281.78,477.61 L282.45,477.68 L283.11,477.76 L283.77,477.83 L284.43,477.90 L285.09,477.97 L285.75,478.04 L286.41,478.11 L287.08,478.17 L287.74,478.23 L288.40,478.30 L289.06,478.36 L289.73,478.41 L290.39,478.47 L291.05,478.53 L291.72,478.58 L292.38,478.63 L293.05,478.69 L293.71,478.74 L294.37,478.78 L295.04,478.83 L295.70,478.88 L296.37,478.92 L297.03,478.97 L297.70,479.01 L298.36,479.05 L299.03,479.09 L299.69,479.13 L300.36,479.17 L301.03,479.21 L301.69,479.25 L302.36,479.28 L303.02,479.32 L303.69,479.35 L304.36,479.38 L305.02,479.42 L305.69,479.45 L306.36,479.48 L307.02,479.51 L307.69,479.54 L308.36,479.57 L309.02,479.59 L309.69,479.62 L310.36,479.65 L311.02,479.67 L311.69,479.70 L312.36,479.73 L313.03,479.75 L313.69,479.78 L314.36,479.80 L315.03,479.82 L315.69,479.85 L316.36,479.87 L317.03,479.89 L317.70,479.92 L318.36,479.94 L319.03,479.96 L319.70,479.98 L320.37,480.01 L321.03,480.03 L321.70,480.05 L322.37,480.07 L323.03,480.09 L323.70,480.12 L324.37,480.14 L325.03,480.16 L325.70,480.18 L326.37,480.21 L327.03,480.23 L327.70,480.25 L328.37,480.27 L329.03,480.30 L329.70,480.32 L330.36,480.35 L331.03,480.37 L331.70,480.39 L332.36,480.42 L333.03,480.45 L333.69,480.47 L334.36,480.50 L335.02,480.53 L335.69,480.55 L336.35,480.58 L337.02,480.61 L337.68,480.64 L338.35,480.67 L339.01,480.71 L339.68,480.74 L340.34,480.77 L341.00,480.80 L341.67,480.84 L342.33,480.87 L342.99,480.91 L343.66,480.95 L344.32,480.99 L344.98,481.03" stroke="#000" stroke-width="2.25"/>
<path d="M56.65,479.44 L57.26,479.04 L57.85,478.62 L58.42,478.20 L58.97,477.76 L59.49,477.31 L60.00,476.85 L60.49,476.38 L60.95,475.90 L61.40,475.40 L61.83,474.90 L62.24,474.39 L62.63,473.87 L63.01,473.34 L63.36,472.80 L63.71,472.25 L64.04,471.70 L64.35,471.13 L64.65,470.56 L64.93,469.98 L65.20,469.40 L65.46,468.81 L65.71,468.21 L65.94,467.60 L66.17,466.99 L66.38,466.38 L66.58,465.76 L66.77,465.13 L66.96,464.50 L67.13,463.86 L67.30,463.23 L67.46,462.58 L67.61,461.94 L67.75,461.29 L67.89,460.63 L68.02,459.98 L68.15,459.32 L68.28,458.66 L68.40,458.00 L68.51,457.34 L68.63,456.67 L68.74,456.01 L68.85,455.34 L68.96,454.67 L69.06,454.01 L69.17,453.34 L69.28,452.68 L69.38,452.01 L69.49,451.34 L69.59,450.68 L69.70,450.01 L69.80,449.35 L69.91,448.69 L70.01,448.02 L70.12,447.36 L70.22,446.69 L70.32,446.03 L70.42,445.37 L70.53,444.70 L70.63,444.04 L70.73,443.38 L70.83,442.71 L70.93,442.05 L71.03,441.39 L71.13,440.73 L71.23,440.07 L71.33,439.40 L71.43,438.74 L71.53,438.08 L71.62,437.42 L71.72,436.76 L71.82,436.10 L71.91,435.43 L72.01,434.77 L72.10,434.11 L72.20,433.45 L72.29,432.79 L72.39,432.13 L72.48,431.47 L72.57,430.81 L72.66,430.15 L72.75,429.49 L72.84,428.83 L72.94,428.17 L73.02,427.51 L73.11,426.85 L73.20,426.19 L73.29,425.53 L73.38,424.87 L73.46,424.21 L73.55,423.55 L73.64,422.89 L73.72,422.23 L73.80,421.57 L73.89,420.91 L73.97,420.25 L74.05,419.59 L74.13,418.93 L74.21,418.27 L74.29,417.61 L74.37,416.95 L74.45,416.29 L74.53,415.63 L74.61,414.97 L74.68,414.31 L74.76,413.65 L74.84,412.99 L74.91,412.33 L74.98,411.67 L75.06,411.01 L75.13,410.35 L75.20,409.69 L75.27,409.03 L75.34,408.37 L75.41,407.71 L75.48,407.04 L75.54,406.38 L75.61,405.72 L75.68,405.06 L75.74,404.40 L75.81,403.74 L75.87,403.08 L75.93,402.42 L76.00,401.75 L76.06,401.09 L76.12,400.43 L76.18,399.77 L76.24,399.11 L76.30,398.44 L76.36,397.78 L76.42,397.12 L76.48,396.46 L76.54,395.80 L76.60,395.13 L76.65,394.47 L76.71,393.81 L76.77,393.14 L76.82,392.48 L76.88,391.82 L76.93,391.16 L76.99,390.49 L77.04,389.83 L77.10,389.17 L77.15,388.50 L77.20,387.84 L77.26,387.18 L77.31,386.51 L77.37,385.85 L77.42,385.19 L77.47,384.52 L77.52,383.86 L77.58,383.20 L77.63,382.53 L77.68,381.87 L77.73,381.20 L77.79,380.54 L77.84,379.88 L77.89,379.21 L77.94,378.55 L78.00,377.89 L78.05,377.22 L78.10,376.56 L78.16,375.89 L78.21,375.23 L78.26,374.56 L78.31,373.90 L78.37,373.24 L78.42,372.57 L78.47,371.91 L78.53,371.24 L78.58,370.58 L78.64,369.91 L78.69,369.25 L78.75,368.58 L78.80,367.92 L78.86,367.25 L78.91,366.59 L78.97,365.92 L79.03,365.26 L79.08,364.60 L79.14,363.93 L79.20,363.27 L79.26,362.60 L79.32,361.94 L79.38,361.27 L79.44,360.61 L79.50,359.94 L79.56,359.28 L79.62,358.61 L79.68,357.95 L79.74,357.28 L79.81,356.62 L79.87,355.95 L79.94,355.29 L80.00,354.62 L80.07,353.96 L80.13,353.29 L80.20,352.63 L80.27,351.96 L80.34,351.30 L80.41,350.63 L80.48,349.97 L80.55,349.30 L80.62,348.64 L80.69,347.97 L80.77,347.31 L80.84,346.64 L80.92,345.98 L81.00,345.31 L81.07,344.64 L81.15,343.98 L81.23,343.31 L81.31,342.65 L81.39,341.98 L81.48,341.32 L81.56,340.65 L81.64,339.99 L81.73,339.33 L81.82,338.66 L81.90,338.00 L81.99,337.33 L82.08,336.67 L82.18,336.00 L82.27,335.34 L82.36,334.67 L82.46,334.01 L82.55,333.34 L82.65,332.68 L82.75,332.01 L82.85,331.35 L82.95,330.68 L83.06,330.02 L83.16,329.35 L83.27,328.69 L83.37,328.02 L83.48,327.36 L83.60,326.70 L83.72,326.04 L83.85,325.39 L83.99,324.74 L84.14,324.09 L84.31,323.46 L84.50,322.83 L84.70,322.21 L84.92,321.60 L85.17,321.01 L85.44,320.42 L85.74,319.85 L86.07,319.30 L86.43,318.80 L86.83,318.38 L87.26,318.08 L87.75,317.95 L88.26,317.99 L88.79,318.17 L89.31,318.47 L89.81,318.84 L90.25,319.26 L90.64,319.73 L90.98,320.23 L91.28,320.77 L91.54,321.34 L91.76,321.94 L91.97,322.56 L92.15,323.22 L92.31,323.89 L92.47,324.59 L92.63,325.31 L92.78,326.04 L92.95,326.78 L93.12,327.53 L93.32,328.30 L93.54,329.06 L93.78,329.83 L94.05,330.58 L94.33,331.30 L94.64,332.00 L94.96,332.66 L95.31,333.27 L95.67,333.83 L96.05,334.32 L96.45,334.73 L96.87,335.06 L97.30,335.30 L97.75,335.45 L98.22,335.48 L98.69,335.40 L99.18,335.23 L99.66,334.96 L100.14,334.62 L100.61,334.20 L101.07,333.73 L101.51,333.21 L101.92,332.65 L102.31,332.05 L102.65,331.44 L102.96,330.82 L103.23,330.19 L103.48,329.54 L103.69,328.89 L103.88,328.24 L104.05,327.58 L104.20,326.91 L104.35,326.24 L104.48,325.58 L104.61,324.91 L104.74,324.24 L104.87,323.58 L105.01,322.92 L105.15,322.27 L105.31,321.62 L105.47,320.98 L105.64,320.34 L105.81,319.70 L106.00,319.07 L106.18,318.44 L106.37,317.81 L106.56,317.18 L106.76,316.56 L106.96,315.93 L107.16,315.31 L107.36,314.68 L107.56,314.06 L107.76,313.43 L107.96,312.81 L108.15,312.18 L108.35,311.55 L108.54,310.91 L108.73,310.28 L108.91,309.64 L109.09,309.00 L109.26,308.35 L109.42,307.70 L109.58,307.05 L109.73,306.39 L109.87,305.72 L110.00,305.05 L110.13,304.37 L110.25,303.69 L110.37,303.00 L110.48,302.32 L110.60,301.63 L110.73,300.95 L110.87,300.27 L111.01,299.60 L111.17,298.93 L111.35,298.27 L111.54,297.62 L111.75,296.98 L111.99,296.35 L112.26,295.73 L112.55,295.13 L112.87,294.55 L113.23,293.98 L113.62,293.44 L114.04,292.93 L114.48,292.46 L114.93,292.04 L115.39,291.68 L115.86,291.39 L116.32,291.17 L116.78,291.05 L117.23,291.01 L117.65,291.09 L118.06,291.27 L118.44,291.57 L118.79,291.98 L119.12,292.47 L119.44,293.05 L119.73,293.69 L120.00,294.38 L120.26,295.11 L120.51,295.86 L120.75,296.63 L120.97,297.40 L121.20,298.16 L121.41,298.90 L121.62,299.61 L121.83,300.31 L122.03,300.99 L122.23,301.66 L122.42,302.31 L122.62,302.95 L122.80,303.58 L122.99,304.21 L123.17,304.82 L123.35,305.44 L123.52,306.04 L123.70,306.65 L123.87,307.25 L124.04,307.86 L124.21,308.47 L124.37,309.08 L124.54,309.70 L124.70,310.31 L124.87,310.94 L125.03,311.56 L125.19,312.19 L125.35,312.82 L125.51,313.45 L125.67,314.09 L125.82,314.72 L125.98,315.36 L126.14,316.01 L126.29,316.65 L126.44,317.30 L126.60,317.94 L126.75,318.59 L126.90,319.24 L127.05,319.90 L127.20,320.55 L127.36,321.20 L127.51,321.86 L127.66,322.52 L127.81,323.17 L127.95,323.83 L128.10,324.49 L128.25,325.15 L128.40,325.81 L128.55,326.47 L128.70,327.13 L128.85,327.79 L129.00,328.45 L129.15,329.11 L129.30,329.77 L129.45,330.43 L129.60,331.09 L129.75,331.74 L129.90,332.40 L130.05,333.06 L130.20,333.71 L130.36,334.37 L130.51,335.02 L130.66,335.67 L130.82,336.32 L130.97,336.97 L131.13,337.62 L131.29,338.26 L131.44,338.90 L131.60,339.54 L131.76,340.18 L131.93,340.82 L132.09,341.46 L132.26,342.09 L132.43,342.73 L132.60,343.36 L132.77,343.99 L132.95,344.62 L133.13,345.25 L133.32,345.88 L133.51,346.51 L133.70,347.14 L133.90,347.77 L134.10,348.39 L134.31,349.02 L134.52,349.65 L134.74,350.28 L134.97,350.90 L135.20,351.53 L135.43,352.16 L135.68,352.79 L135.93,353.42 L136.18,354.05 L136.45,354.68 L136.72,355.31 L137.01,355.93 L137.31,356.54 L137.62,357.14 L137.95,357.73 L138.30,358.30 L138.66,358.85 L139.05,359.38 L139.46,359.89 L139.89,360.37 L140.34,360.83 L140.82,361.27 L141.31,361.68 L141.83,362.07 L142.36,362.44 L142.91,362.80 L143.48,363.13 L144.07,363.45 L144.67,363.75 L145.29,364.04 L145.91,364.32 L146.53,364.60 L147.15,364.89 L147.77,365.17 L148.38,365.47 L148.97,365.78 L149.55,366.11 L150.11,366.46 L150.64,366.84 L151.15,367.25 L151.62,367.68 L152.07,368.15 L152.50,368.64 L152.90,369.16 L153.28,369.69 L153.65,370.24 L153.99,370.81 L154.33,371.39 L154.65,371.99 L154.96,372.59 L155.26,373.19 L155.55,373.80 L155.84,374.41 L156.13,375.02 L156.41,375.63 L156.69,376.24 L156.96,376.86 L157.23,377.47 L157.50,378.08 L157.76,378.69 L158.03,379.31 L158.29,379.92 L158.54,380.53 L158.80,381.15 L159.05,381.76 L159.30,382.38 L159.55,383.00 L159.79,383.61 L160.04,384.23 L160.28,384.84 L160.53,385.46 L160.77,386.08 L161.01,386.69 L161.25,387.31 L161.49,387.93 L161.73,388.55 L161.97,389.17 L162.21,389.78 L162.45,390.40 L162.69,391.02 L162.93,391.64 L163.17,392.26 L163.42,392.88 L163.66,393.50 L163.91,394.11 L164.15,394.73 L164.40,395.35 L164.65,395.97 L164.90,396.59 L165.15,397.21 L165.40,397.83 L165.66,398.44 L165.91,399.06 L166.17,399.68 L166.43,400.29 L166.69,400.91 L166.95,401.52 L167.21,402.14 L167.48,402.75 L167.75,403.36 L168.01,403.98 L168.29,404.59 L168.56,405.20 L168.83,405.81 L169.11,406.41 L169.39,407.02 L169.67,407.63 L169.95,408.23 L170.24,408.84 L170.53,409.44 L170.82,410.04 L171.11,410.64 L171.40,411.24 L171.70,411.83 L172.00,412.43 L172.30,413.02 L172.61,413.62 L172.92,414.21 L173.23,414.79 L173.54,415.38 L173.86,415.97 L174.18,416.55 L174.50,417.13 L174.83,417.71 L175.15,418.29 L175.49,418.86 L175.82,419.44 L176.16,420.01 L176.50,420.58 L176.84,421.14 L177.19,421.71 L177.54,422.27 L177.90,422.83 L178.26,423.39 L178.62,423.94 L178.98,424.49 L179.35,425.04 L179.73,425.59 L180.10,426.13 L180.48,426.67 L180.87,427.21 L181.25,427.75 L181.65,428.28 L182.04,428.81 L182.44,429.34 L182.85,429.86 L183.25,430.38 L183.67,430.90 L184.08,431.41 L184.50,431.92 L184.92,432.43 L185.35,432.94 L185.78,433.44 L186.21,433.95 L186.65,434.44 L187.09,434.94 L187.53,435.44 L187.98,435.93 L188.43,436.42 L188.88,436.90 L189.34,437.39 L189.79,437.87 L190.25,438.35 L190.72,438.83 L191.18,439.30 L191.65,439.78 L192.12,440.25 L192.60,440.72 L193.07,441.19 L193.55,441.65 L194.03,442.12 L194.51,442.58 L195.00,443.04 L195.48,443.50 L195.97,443.96 L196.46,444.41 L196.95,444.87 L197.45,445.32 L197.94,445.77 L198.44,446.22 L198.94,446.67 L199.43,447.12 L199.94,447.56 L200.44,448.01 L200.94,448.45 L201.44,448.90 L201.95,449.34 L202.45,449.78 L202.96,450.22 L203.47,450.65 L203.98,451.09 L204.49,451.53 L205.00,451.96 L205.51,452.39 L206.03,452.82 L206.54,453.25 L207.06,453.68 L207.58,454.10 L208.10,454.53 L208.62,454.95 L209.14,455.37 L209.66,455.78 L210.19,456.20 L210.71,456.61 L211.24,457.02 L211.77,457.42 L212.30,457.83 L212.83,458.23 L213.37,458.62 L213.90,459.02 L214.44,459.41 L214.98,459.80 L215.52,460.18 L216.07,460.57 L216.61,460.94 L217.16,461.32 L217.71,461.69 L218.26,462.06 L218.81,462.42 L219.37,462.78 L219.92,463.14 L220.48,463.49 L221.05,463.84 L221.61,464.18 L222.18,464.52 L222.74,464.86 L223.31,465.19 L223.89,465.51 L224.46,465.83 L225.04,466.15 L225.62,466.46 L226.20,466.77 L226.78,467.07 L227.37,467.37 L227.96,467.66 L228.55,467.94 L229.15,468.23 L229.75,468.50 L230.35,468.77 L230.95,469.04 L231.55,469.30 L232.16,469.55 L232.77,469.80 L233.38,470.05 L233.99,470.29 L234.61,470.52 L235.23,470.75 L235.85,470.98 L236.47,471.20 L237.10,471.42 L237.72,471.63 L238.35,471.84 L238.98,472.04 L239.61,472.24 L240.25,472.44 L240.88,472.63 L241.52,472.82 L242.16,473.00 L242.80,473.18 L243.44,473.36 L244.08,473.53 L244.73,473.70 L245.38,473.86 L246.02,474.02 L246.67,474.18 L247.32,474.34 L247.98,474.49 L248.63,474.63 L249.28,474.78 L249.94,474.92 L250.59,475.06 L251.25,475.19 L251.91,475.32 L252.57,475.45 L253.23,475.58 L253.89,475.70 L254.55,475.82 L255.21,475.94 L255.87,476.05 L256.54,476.16 L257.20,476.27 L257.87,476.38 L258.53,476.49 L259.20,476.59 L259.86,476.69 L260.53,476.79 L261.19,476.89 L261.86,476.98 L262.53,477.07 L263.20,477.16 L263.86,477.25 L264.53,477.34 L265.20,477.42 L265.86,477.51 L266.53,477.59 L267.20,477.67 L267.87,477.75 L268.53,477.83 L269.20,477.91 L269.87,477.98 L270.53,478.05 L271.20,478.13 L271.86,478.20 L272.53,478.27 L273.20,478.34 L273.86,478.41 L274.53,478.47 L275.19,478.54 L275.86,478.60 L276.52,478.67 L277.19,478.73 L277.85,478.79 L278.51,478.85 L279.18,478.91 L279.84,478.96 L280.51,479.02 L281.17,479.08 L281.83,479.13 L282.50,479.18 L283.16,479.24 L283.82,479.29 L284.49,479.34 L285.15,479.39 L285.81,479.44 L286.47,479.48 L287.14,479.53 L287.80,479.58 L288.46,479.62 L289.13,479.66 L289.79,479.71 L290.45,479.75 L291.11,479.79 L291.78,479.83 L292.44,479.87 L293.10,479.91 L293.76,479.95 L294.42,479.99 L295.09,480.02 L295.75,480.06 L296.41,480.09 L297.07,480.13 L297.74,480.16 L298.40,480.20 L299.06,480.23 L299.72,480.26 L300.38,480.29 L301.05,480.32 L301.71,480.35 L302.37,480.38 L303.03,480.41 L303.70,480.44 L304.36,480.47 L305.02,480.49 L305.68,480.52 L306.35,480.55 L307.01,480.57 L307.67,480.60 L308.34,480.62 L309.00,480.65 L309.66,480.67 L310.33,480.69 L310.99,480.72 L311.65,480.74 L312.32,480.76 L312.98,480.78 L313.64,480.80 L314.31,480.83 L314.97,480.85 L315.64,480.87 L316.30,480.89 L316.96,480.91 L317.63,480.93 L318.29,480.95 L318.96,480.97 L319.62,480.99 L320.29,481.01 L320.95,481.02 L321.62,481.04 L322.29,481.06 L322.95,481.08 L323.62,481.10 L324.29,481.12 L324.95,481.14 L325.62,481.15 L326.29,481.17 L326.95,481.19 L327.62,481.21 L328.29,481.22 L328.96,481.24 L329.63,481.26 L330.29,481.28 L330.96,481.30 L331.63,481.31 L332.30,481.33 L332.97,481.35 L333.64,481.37 L334.31,481.39 L334.98,481.41 L335.65,481.42 L336.32,481.44 L337.00,481.46 L337.67,481.48 L338.34,481.50 L339.01,481.52 L339.68,481.54 L340.36,481.56 L341.03,481.58 L341.70,481.60 L342.38,481.62 L343.05,481.64 L343.73,481.66 L344.40,481.69 L345.08,481.71" stroke="#f00" stroke-width="2.25"/>
</g>
<g stroke="#000" stroke-width="2.4" stroke-linecap="butt">
<line x1="44.65" y1="221.5" x2="44.65" y2="227.0"/><line x1="74.66" y1="221.5" x2="74.66" y2="224.9"/><line x1="104.66" y1="221.5" x2="104.66" y2="227.0"/><line x1="134.67" y1="221.5" x2="134.67" y2="224.9"/><line x1="164.67" y1="221.5" x2="164.67" y2="227.0"/><line x1="194.68" y1="221.5" x2="194.68" y2="224.9"/><line x1="224.68" y1="221.5" x2="224.68" y2="227.0"/><line x1="254.69" y1="221.5" x2="254.69" y2="224.9"/><line x1="284.69" y1="221.5" x2="284.69" y2="227.0"/><line x1="314.70" y1="221.5" x2="314.70" y2="224.9"/><line x1="344.70" y1="221.5" x2="344.70" y2="227.0"/>
<line x1="50.75" y1="500.6" x2="50.75" y2="504.0"/><line x1="83.59" y1="500.6" x2="83.59" y2="506.0"/><line x1="116.43" y1="500.6" x2="116.43" y2="504.0"/><line x1="149.27" y1="500.6" x2="149.27" y2="506.0"/><line x1="182.11" y1="500.6" x2="182.11" y2="504.0"/><line x1="214.95" y1="500.6" x2="214.95" y2="506.0"/><line x1="247.78" y1="500.6" x2="247.78" y2="504.0"/><line x1="280.62" y1="500.6" x2="280.62" y2="506.0"/><line x1="313.46" y1="500.6" x2="313.46" y2="504.0"/><line x1="346.30" y1="500.6" x2="346.30" y2="506.0"/>
</g>
<g font-size="12" text-anchor="middle">
<text x="44.65" y="238.7">300</text><text x="104.66" y="238.7">400</text><text x="164.67" y="238.7">500</text><text x="224.68" y="238.7">600</text><text x="284.69" y="238.7">700</text><text x="344.70" y="238.7">800</text>
<text x="83.59" y="517.7">400</text><text x="149.27" y="517.7">450</text><text x="214.95" y="517.7">500</text><text x="280.62" y="517.7">550</text><text x="346.30" y="517.7">600</text>
</g>
<text transform="translate(186.8,265.2) scale(1,0.96)" font-size="16.9" text-anchor="middle">Wavelength (nm)</text>
<text transform="translate(188.4,544.3) scale(1,0.96)" font-size="16.9" text-anchor="middle">Wavelength (nm)</text>
<text transform="translate(15.2,108.5) rotate(-90) scale(1,0.94)" font-size="17.7" text-anchor="middle">Absorbance (a.u)</text>
<text transform="translate(13.6,389.6) rotate(-90) scale(1,0.96)" font-size="16.7" text-anchor="middle">Normalized PL Intensity (a.u)</text>
<text x="53.3" y="37.1" font-size="21.2">(a)</text>
<text x="44" y="314.1" font-size="21.2">(b)</text>
<g stroke-width="2.2" stroke-linecap="round">
<line x1="249" y1="55.4" x2="273" y2="55.4" stroke="#000"/>
<line x1="249" y1="68.6" x2="273" y2="68.6" stroke="#f00"/>
<line x1="254.5" y1="299.5" x2="278.8" y2="299.5" stroke="#000"/>
<line x1="254.5" y1="313" x2="278.8" y2="313" stroke="#f00"/>
</g>
<g font-size="10.3">
<text transform="translate(276.2,58.8) scale(0.97,0.97)">PQDs</text>
<text transform="translate(276.4,72.2) scale(0.97,0.97)">NPQDs</text>
<text transform="translate(281.8,302.9) scale(0.97,0.97)">PQDs</text>
<text transform="translate(282.2,315.9) scale(0.97,0.97)">NPQDs</text>
</g>
</svg>
</body></html>
